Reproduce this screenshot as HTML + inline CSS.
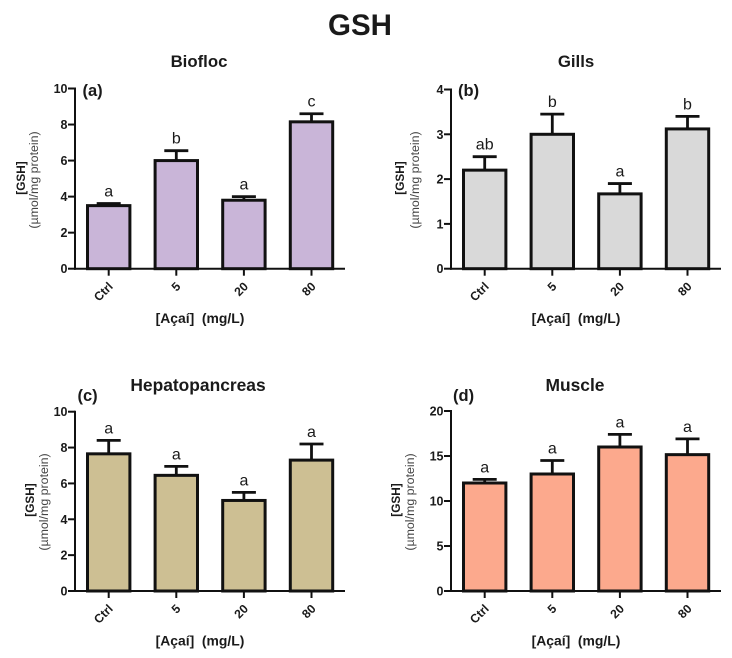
<!DOCTYPE html>
<html>
<head>
<meta charset="utf-8">
<title>GSH</title>
<style>
html,body{margin:0;padding:0;background:#fff;width:732px;height:658px;overflow:hidden}
svg{display:block;filter:blur(0.3px)}
text{font-family:"Liberation Sans",sans-serif;fill:#1a1a1a}
</style>
</head>
<body>
<svg id="figure" width="732" height="658" viewBox="0 0 732 658" xmlns="http://www.w3.org/2000/svg">
<text x="360" y="35" text-anchor="middle" font-size="29.5" font-weight="700">GSH</text>
</svg>
<script>
const categories = ['Ctrl', '5', '20', '80'];
const xAxisTitle = '[Açaí]  (mg/L)';
const yAxisTitle = '[GSH]';
const yAxisUnit = '(µmol/mg protein)';

const bioflocMeans = [3.5, 6.0, 3.8, 8.15];
const bioflocUpper = [3.62, 6.55, 4.0, 8.6];
const bioflocLetters = ['a', 'b', 'a', 'c'];
const bioflocTicks = [0, 2, 4, 6, 8, 10];

const gillsMeans = [2.2, 3.0, 1.67, 3.12];
const gillsUpper = [2.5, 3.45, 1.9, 3.4];
const gillsLetters = ['ab', 'b', 'a', 'b'];
const gillsTicks = [0, 1, 2, 3, 4];

const hepatoMeans = [7.65, 6.45, 5.05, 7.3];
const hepatoUpper = [8.4, 6.95, 5.5, 8.2];
const hepatoLetters = ['a', 'a', 'a', 'a'];
const hepatoTicks = [0, 2, 4, 6, 8, 10];

const muscleMeans = [12, 13, 16, 15.15];
const muscleUpper = [12.4, 14.5, 17.4, 16.9];
const muscleLetters = ['a', 'a', 'a', 'a'];
const muscleTicks = [0, 5, 10, 15, 20];

const NS = 'http://www.w3.org/2000/svg';
const svg = document.getElementById('figure');

function make(parent, tag, attrs, text) {
  const el = document.createElementNS(NS, tag);
  for (const k in attrs) el.setAttribute(k, attrs[k]);
  if (text !== undefined) el.textContent = text;
  parent.appendChild(el);
  return el;
}

function drawPanel(p) {
  const g = make(svg, 'g', {});
  
  

  const maxV = p.ticks[p.ticks.length - 1];
  const yScale = v => p.bottom - (v / maxV) * (p.bottom - p.top);
  const xScale = i => p.axisX + 33.7 + i * 67.6;

  const title = make(g, 'text', {x: p.titleX, y: p.titleY, 'text-anchor': 'middle', 'font-size': p.titleSize, 'font-weight': 700}, p.title);
  
  

  const tag = make(g, 'text', {x: p.tagX, y: p.tagY, 'font-size': 16.5, 'font-weight': 700}, p.tag);
  
  

  const yt = make(g, 'text', {transform: 'translate(' + p.yLabelX + ',' + p.yLabelY + ') rotate(-90)', 'text-anchor': 'middle', 'font-size': 11.8, 'font-weight': 700}, yAxisTitle);
  
  

  const yu = make(g, 'text', {transform: 'translate(' + p.yUnitX + ',' + (p.yLabelY + 2) + ') rotate(-90)', 'text-anchor': 'middle', 'font-size': 12.4, style: 'fill:#444'}, yAxisUnit);
  
  

  const xt = make(g, 'text', {x: p.axisX + 125, y: p.bottom + 54.5, 'text-anchor': 'middle', 'font-size': 13.9, 'font-weight': 700, style: 'white-space:pre'}, xAxisTitle);
  
  

  categories.forEach((c, i) => {
    const cx = xScale(i);
    const top = yScale(p.means[i]);
    const up = yScale(p.upper[i]);

    const err = make(g, 'path', {d: 'M' + cx + ' ' + top + 'V' + up + 'M' + (cx - 12) + ' ' + up + 'H' + (cx + 12), fill: 'none', stroke: '#111', 'stroke-width': 2.8});
    
    

    const bar = make(g, 'rect', {x: cx - 21.2, y: top, width: 42.4, height: p.bottom - top, fill: p.color, stroke: '#111', 'stroke-width': 3});
    
    

    const letter = make(g, 'text', {x: cx, y: up - 7, 'text-anchor': 'middle', 'font-size': 16}, p.letters[i]);
    
    

    const tick = make(g, 'line', {x1: cx, x2: cx, y1: p.bottom, y2: p.bottom + 7, stroke: '#111', 'stroke-width': 2});
    
    

    const lab = make(g, 'text', {transform: 'translate(' + (cx + 5) + ',' + (p.bottom + 18.5) + ') rotate(-45)', 'text-anchor': 'end', 'font-size': 12.2, 'font-weight': 700}, c);
    
    
  });

  const xAxis = make(g, 'line', {x1: p.axisX - 1, x2: p.axisX + 270, y1: p.bottom, y2: p.bottom, stroke: '#111', 'stroke-width': 2});
  
  

  const yAxis = make(g, 'line', {x1: p.axisX, x2: p.axisX, y1: p.top - 1, y2: p.bottom + 1, stroke: '#111', 'stroke-width': 2});
  
  

  p.ticks.forEach(t => {
    const y = yScale(t);
    const tick = make(g, 'line', {x1: p.axisX - 7, x2: p.axisX, y1: y, y2: y, stroke: '#111', 'stroke-width': 2});
    
    

    const lab = make(g, 'text', {x: p.axisX - 7.5, y: y + 4.5, 'text-anchor': 'end', 'font-size': 12.5, 'font-weight': 700}, t);
    
    
  });
}

drawPanel({key: 'biofloc', title: 'Biofloc', titleSize: 16.8, tag: '(a)', color: '#c9b5d8', means: bioflocMeans, upper: bioflocUpper, letters: bioflocLetters, ticks: bioflocTicks,
  axisX: 75, top: 88.5, bottom: 268.7, titleX: 199, titleY: 67, tagX: 82.5, tagY: 96, yLabelX: 25, yLabelY: 178, yUnitX: 38});
drawPanel({key: 'gills', title: 'Gills', titleSize: 16.8, tag: '(b)', color: '#d9d9d9', means: gillsMeans, upper: gillsUpper, letters: gillsLetters, ticks: gillsTicks,
  axisX: 451, top: 89.5, bottom: 268.7, titleX: 576, titleY: 67, tagX: 458, tagY: 96, yLabelX: 404, yLabelY: 178, yUnitX: 419});
drawPanel({key: 'hepatopancreas', title: 'Hepatopancreas', titleSize: 17.4, tag: '(c)', color: '#cdbf93', means: hepatoMeans, upper: hepatoUpper, letters: hepatoLetters, ticks: hepatoTicks,
  axisX: 75, top: 411.7, bottom: 591, titleX: 198, titleY: 391, tagX: 77.5, tagY: 401, yLabelX: 34, yLabelY: 500, yUnitX: 48});
drawPanel({key: 'muscle', title: 'Muscle', titleSize: 17.4, tag: '(d)', color: '#fca98d', means: muscleMeans, upper: muscleUpper, letters: muscleLetters, ticks: muscleTicks,
  axisX: 451, top: 411, bottom: 591, titleX: 575, titleY: 391, tagX: 453, tagY: 401, yLabelX: 400, yLabelY: 500, yUnitX: 414});
</script>
</body>
</html>
